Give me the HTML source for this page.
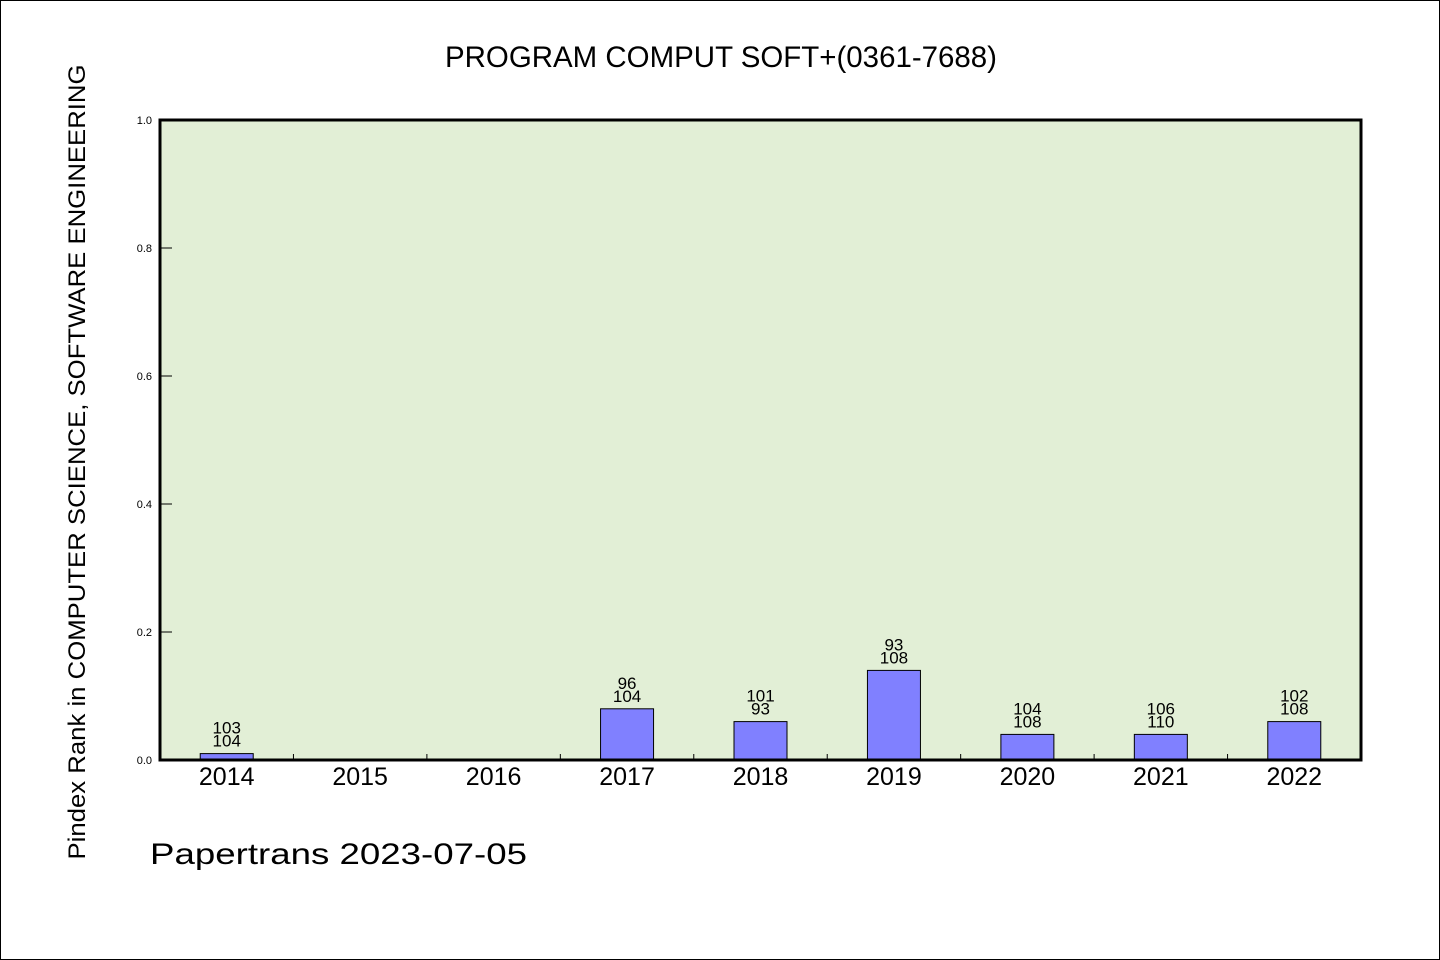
<!DOCTYPE html>
<html><head><meta charset="utf-8"><style>
html,body{margin:0;padding:0;background:#fff;}
svg{display:block;font-family:"WenQuanYi Zen Hei","Liberation Sans",sans-serif;}
</style></head><body>
<svg id="chart" width="1440" height="960" viewBox="0 0 1440 960">
<rect x="0.5" y="0.5" width="1439" height="959" fill="#fff" stroke="#000" stroke-width="1"/>
<text x="721" y="67" font-size="30" text-anchor="middle" textLength="552" lengthAdjust="spacingAndGlyphs">PROGRAM COMPUT SOFT+(0361-7688)</text>
<rect x="160" y="120" width="1201" height="640" fill="#e2efd6"/>
<g id="bars"></g>
<g id="yaxis"></g>
<g id="xaxis"></g>
<rect x="160" y="120" width="1201" height="640" fill="none" stroke="#000" stroke-width="3"/>
<text transform="translate(85,462) rotate(-90)" font-size="24" text-anchor="middle" textLength="795" lengthAdjust="spacingAndGlyphs">Pindex Rank in COMPUTER SCIENCE, SOFTWARE ENGINEERING</text>
<text x="150" y="864" font-size="30" textLength="377" lengthAdjust="spacingAndGlyphs">Papertrans 2023-07-05</text>
</svg>
<script>
const categories=['2014','2015','2016','2017','2018','2019','2020','2021','2022'];
const values=[0.01,0,0,0.08,0.06,0.14,0.04,0.04,0.06];
const labelTop=['103','','','96','101','93','104','106','102'];
const labelBottom=['104','','','104','93','108','108','110','108'];
const yTicks=[0,0.2,0.4,0.6,0.8,1.0];
const yTickLabels=['0.0','0.2','0.4','0.6','0.8','1.0'];
const NS='http://www.w3.org/2000/svg';
const X0=160,X1=1361,Y0=760,Y1=120;
const band=(X1-X0)/categories.length;
const xc=i=>X0+band*(i+0.5);
const y=v=>Y0-(v/1.0)*(Y0-Y1);
function mk(tag,attrs,parent){const e=document.createElementNS(NS,tag);for(const k in attrs)e.setAttribute(k,attrs[k]);parent.appendChild(e);return e;}
const gb=document.getElementById('bars'),gy=document.getElementById('yaxis'),gx=document.getElementById('xaxis');
categories.forEach((c,i)=>{
  const v=values[i];
  if(v>0){
    const r=mk('rect',{x:xc(i)-26.5,y:y(v),width:53,height:Y0-y(v),fill:'#8080ff',stroke:'#000','stroke-width':1},gb);
    
    
    const t1=mk('text',{x:xc(i),y:y(v)-20,'font-size':17,'text-anchor':'middle'},gb);
    t1.textContent=labelTop[i];
    
    
    const t2=mk('text',{x:xc(i),y:y(v)-7,'font-size':17,'text-anchor':'middle'},gb);
    t2.textContent=labelBottom[i];
    
    
  }
  const xl=mk('text',{x:xc(i),y:785,'font-size':25,'text-anchor':'middle'},gx);
  xl.textContent=c;
  
  
  if(i>0){
    const tk=mk('line',{x1:X0+band*i,x2:X0+band*i,y1:Y0,y2:Y0-6,stroke:'#000','stroke-width':1},gx);
    
    
  }
});
yTicks.forEach((v,i)=>{
  const tk=mk('line',{x1:X0,x2:X0+12,y1:y(v),y2:y(v),stroke:'#000','stroke-width':1},gy);
  
  
  const tl=mk('text',{x:152,y:y(v)+4,'font-size':11,'text-anchor':'end'},gy);
  tl.textContent=yTickLabels[i];
  
  
});
</script>
</body></html>
